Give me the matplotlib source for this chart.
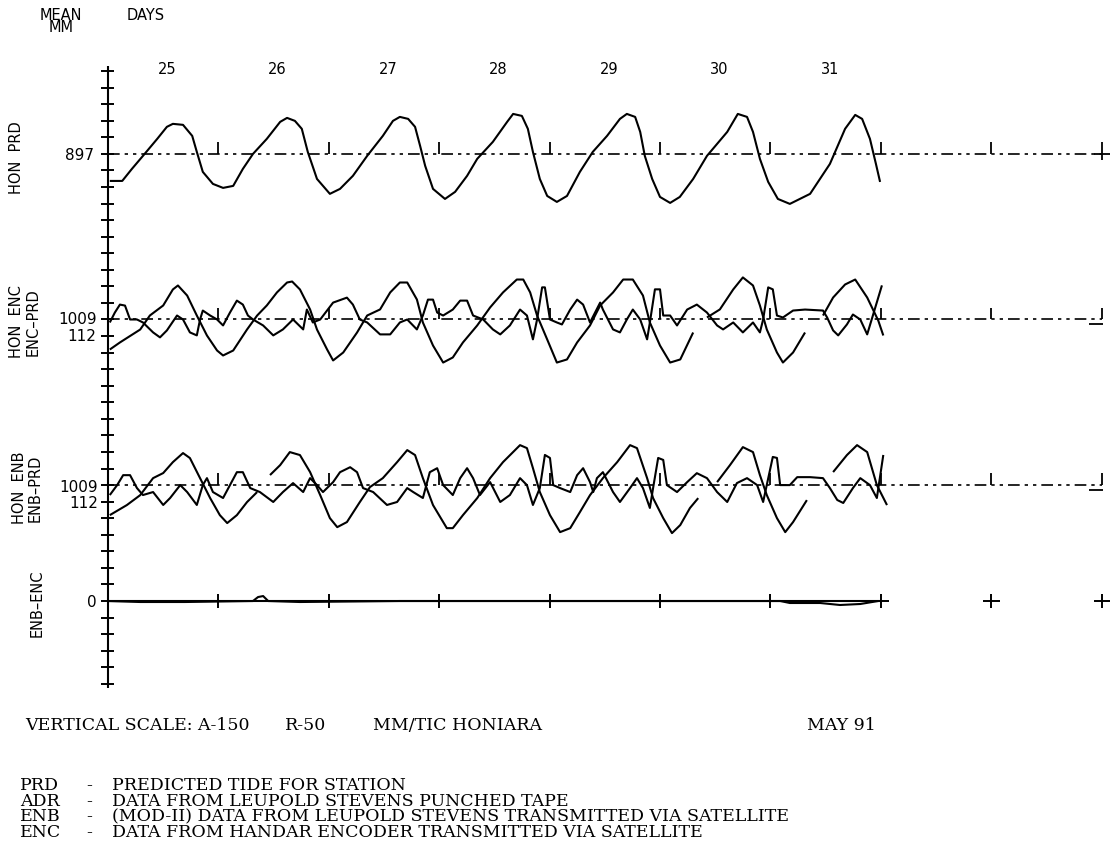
import numpy as np
import matplotlib
matplotlib.use('Agg')
from matplotlib import pyplot as plt

nan = np.nan

# time axis: hours after 00:00 May 25; heights in mm about the station mean
days = ['25', '26', '27', '28', '29', '30', '31']
abs_mm_per_tic = 150
res_mm_per_tic = 50

# HON PRD - predicted tide (mean 897 mm)
prd_hr = [0.5, 3.2, 5.3, 7.7, 10.8, 12.9, 14.2, 16.4, 18.4, 19.4, 20.7, 22.9, 25.1, 27.3, 29.4, 31.6,
          34.6, 37.5, 39.0, 40.7, 42.2, 43.5, 45.5, 48.3, 50.5, 53.3, 56.4, 59.8, 62.0, 63.5, 65.3,
          66.8, 67.9, 69.0, 70.7, 73.3, 75.5, 78.1, 80.3, 83.7, 86.8, 88.1, 90.0, 91.3, 92.4, 93.9,
          95.5, 97.6, 99.8, 102.6, 105.4, 108.5, 111.3, 112.8, 114.6, 115.7, 116.7, 118.3, 120.0,
          122.2, 124.3, 127.2, 130.2, 134.6, 136.9, 138.9, 140.2, 141.7, 143.5, 145.6, 148.2, 152.6,
          156.9, 160.2, 162.4, 163.9, 165.6, 166.9, 167.8]
prd_mm = [-245, -245, -136, -18, 136, 245, 272, 263, 163, 18, -163, -272, -308, -290, -136, 0,
          136, 290, 326, 299, 227, 18, -227, -362, -317, -199, -18, 163, 299, 335, 317,
          245, 72, -109, -317, -408, -344, -199, -45, 109, 290, 362, 344, 227, 18, -227,
          -381, -435, -381, -163, 18, 163, 317, 362, 335, 199, -18, -227, -390,
          -444, -390, -227, -18, 199, 362, 335, 199, -45, -254, -408, -453, -362,
          -91, 227, 353, 317, 136, -91, -254]

# HON ENC - handar encoder (mean 1009 mm)
enc_hr = [0.5, 2.7, 7.1, 9.2, 12.1, 14.2, 15.3, 17.3, 19.4, 21.6, 23.8, 25.1, 27.3, 30.3, 32.5, 34.6,
          36.8, 39.0, 40.1, 41.8, 44.0, 45.5, 47.7, 49.0, 51.2, 54.2, 56.4, 59.2, 61.4, 63.5, 65.1,
          67.2, 68.5, 70.7, 72.9, 75.0, 77.2, 80.3, 83.1, 85.9, 88.9, 90.3, 91.8, 93.3, 95.5, 97.6,
          99.8, 102.0, 104.8, 107.0, 109.8, 112.0, 114.1, 116.3, 117.8, 120.0, 122.2, 124.4, 127.2,
          nan, 130.2, 133.0, 135.9, 138.0, 140.2, 141.7, 143.2, 145.4, 146.7, 148.9, 151.5,
          nan, 155.4, 157.6, 160.2, 162.4, 165.0, 167.4, 168.5]
enc_mm = [-272, -208, -91, 36, 127, 272, 308, 217, 36, -145, -281, -326, -281, -91, 36, 127,
          245, 335, 344, 272, 91, -91, -272, -371, -299, -118, 36, 91, 245, 335, 335,
          181, -27, -236, -390, -344, -208, -54, 109, 245, 362, 362, 245, 36, -181, -390,
          -362, -208, -54, 127, 245, 362, 362, 217, -27, -236, -390, -362, -118,
          nan, 18, 91, 272, 381, 308, 127, -91, -299, -390, -299, -118,
          nan, 36, 199, 317, 362, 199, -9, -145]

# ENC-PRD residual (mean 112 mm)
encr_hr = [0.5, 1.6, 2.7, 3.8, 4.9, 6.4, 7.7, 9.9, 11.4, 12.9, 15.1, 16.4, 17.9, 19.4, 20.1, 20.7,
           22.3, 23.8, 25.1, 26.6, 28.1, 29.4, 30.5, 31.6, 33.8, 36.0, 38.1, 40.3, 42.5, 43.3, 44.6,
           46.2, 49.0, 52.0, 53.3, 54.8, 56.4, 59.2, 61.4, 63.5, 65.1, 67.2, 68.5, 69.6, 70.7, 71.6,
           72.9, 75.0, 76.6, 78.1, 79.4, 81.6, 83.7, 85.3, 87.4, 89.6, 91.1, 92.4, 93.3, 94.4, 95.0,
           96.1, 97.6, 98.7, 100.5, 102.0, 103.3, 104.8, 107.0, 107.6, 109.8, 111.3, 112.8, 114.1,
           115.7, 117.2, 117.8, 118.9, 120.0, 120.7, 122.2, 123.7, 125.9, 128.0, 130.2, 132.4, 133.7,
           135.9, 138.0, 140.2, 141.7, 142.4, 143.5, 144.5, 145.4, 146.7, 148.9, 151.5, 155.4, 156.3,
           157.6, 158.7, 160.6, 161.9, 163.5, 165.0, 166.3, 168.2]
encr_mm = [-9, 21, 45, 42, 0, 0, -9, -39, -54, -33, 12, 0, -39, -48, 0, 27,
           12, 0, -18, 21, 57, 45, 12, 0, -18, -48, -30, 0, -30, 30, -9,
           0, 51, 66, 45, 0, -9, -45, -45, -9, 0, -30, 12, 60, 60, 21,
           12, 30, 57, 57, 12, 0, -30, -45, -18, 30, 12, -60, 0, 97, 97,
           0, -9, -15, 30, 60, 45, -9, 51, 30, -30, -39, 0, 30,
           0, -60, -9, 91, 91, 12, 12, -18, 30, 45, 21, -18, -30,
           -9, -39, -9, -39, 0, 97, 91, 12, 6, 27, 30, 27, 6,
           -33, -48, -15, 15, 0, -45, 15, 103]

# HON ENB - leupold stevens via satellite (mean 1009 mm)
enb_hr = [0.5, 4.2, 7.1, 9.9, 12.1, 14.2, 16.4, 17.9, 20.1, 22.3, 24.4, 26.0, 28.1, 30.3, 32.5,
          nan, 35.3, 37.5, 39.6, 41.8, 44.0, 46.2, 48.3, 49.9, 52.0, 54.8, 57.0, 59.8, 62.9, 65.1,
          66.8, 68.5, 70.7, 73.7, 75.0, 77.2, 80.3, 83.1, 85.9, 89.6, 91.1, 92.4, 93.9, 96.1, 98.3,
          100.5, 102.6, 104.8, 107.6, 110.7, 113.5, 115.0, 117.2, 118.5, 120.7, 122.6, 124.4, 126.5,
          128.3, nan, 132.4, 135.2, 138.0, 140.2, 141.7, 143.2, 145.4, 147.2, 148.9, 151.9,
          nan, 157.6, 160.6, 162.8, 165.0, 167.1, 169.3]
enb_mm = [-272, -181, -91, 63, 109, 208, 290, 245, 63, -118, -272, -344, -272, -154, -63,
          nan, 91, 181, 299, 272, 118, -91, -299, -381, -335, -154, -18, 63, 208, 317,
          272, 63, -181, -390, -390, -272, -118, 63, 208, 362, 335, 154, -63, -272, -426,
          -390, -245, -91, 63, 208, 362, 335, 63, -118, -299, -435, -362, -208,
          -118, nan, 27, 181, 344, 299, 91, -91, -299, -426, -335, -136,
          nan, 118, 272, 362, 299, 0, -181]

# ENB-PRD residual (mean 112 mm)
enbr_hr = [0.5, 2.1, 3.4, 4.9, 6.4, 7.7, 9.9, 12.1, 13.6, 15.8, 17.3, 19.4, 20.7, 21.6, 22.9, 25.1,
           26.6, 28.1, 29.4, 31.0, 33.1, 36.0, 38.1, 40.3, 42.5, 44.0, 45.5, 46.8, 49.0, 50.5, 52.7,
           54.2, 55.5, 57.7, 60.7, 62.9, 65.1, 66.4, 68.5, 70.0, 71.6, 72.9, 75.0, 76.6, 78.1, 79.4,
           80.9, 83.1, 85.3, 87.4, 89.6, 91.1, 92.4, 93.9, 95.0, 96.1, 96.8, 98.3, 100.5, 102.0,
           103.3, 104.8, 105.5, 106.3, 107.6, 109.8, 111.3, 113.5, 115.0, 116.3, 117.8, 118.5, 119.6,
           120.7, 121.5, 123.7, 125.9, 128.0, 130.2, 132.4, 134.6, 136.7, 138.9, 141.1, 142.4, 144.5,
           145.4, 146.1, 148.2, 149.8, 152.6, 155.4, 156.9, 158.5, 159.8, 161.9, 163.5, 165.6, 167.1,
           168.5]
enbr_mm = [-30, 0, 30, 30, -9, -30, -21, -60, -39, 0, -21, -60, 0, 21, -21, -39,
           0, 39, 39, -9, -21, -51, -21, 6, -21, 21, 0, -21, 9, 39, 54,
           39, -9, -21, -60, -51, -9, -21, -39, 39, 51, 0, -30, 21, 51, 21,
           -30, 9, -51, -30, 21, 0, -60, -9, 91, 82, 0, -9, -21, 30,
           51, 9, -21, 21, 39, -21, -51, -9, 21, -9, -69, -9, 82,
           76, 0, -21, 9, 36, 21, -21, -51, 6, 21, 0, -51, 85,
           82, 0, 0, 24, 24, 21, -9, -45, -54, -9, 21, 0, -39,
           91]

# ENB-ENC difference
diff_hr = [0.0, 7.1, 16.8, 31.6, 32.7, 33.8, 34.9, 41.8, 63.5, 85.3, 107.0, 128.7, 146.1, 148.2,
           154.8, 159.1, 163.5, 167.4]
diff_mm = [0, -3, -3, 0, 12, 15, 0, -3, 0, 0, 0, 0, 0, -6, -6, -12, -9, 0]

W, H = 1115, 845
fig = plt.figure(figsize=(W / 100, H / 100), dpi=100)
ax = fig.add_axes([107.5 / W, (H - 693.1) / H, 994.5 / W, (693.1 - 63.8) / H])
ax.set_xlim(0, 216)
ax.set_ylim(-5.5, 32.5)
ax.axis('off')

k = dict(color='black', clip_on=False, solid_capstyle='butt')
base_prd, base_enc, base_enb, base_diff = 27, 17, 7, 0

# vertical axis with + ticks
ax.plot([0, 0], [-5.25, 32.3], lw=1.5, **k)
for t in range(-5, 33):
    ax.plot([-1.45, 1.45], [t, t], lw=1.4, **k)

# mean lines with day marks
for b in (base_prd, base_enc, base_enb):
    ax.plot([0, 216], [b, b], lw=1.2, dashes=(7, 3, 2, 3, 2, 3), **k)
    for d in range(1, 10):
        ax.plot([24 * d, 24 * d], [b, b + 0.72], lw=1.3, **k)
ax.plot([214.2, 217.8], [base_prd, base_prd], lw=1.3, **k)
ax.plot([24 * 9, 24 * 9], [base_prd - 0.35, base_prd], lw=1.3, **k)
for b in (base_enc, base_enb):
    ax.plot([213.2, 216.2], [b - 0.3, b - 0.3], lw=1.3, **k)

ax.plot([0, 168], [base_diff, base_diff], lw=1.5, **k)
for d in range(1, 10):
    ax.plot([24 * d, 24 * d], [base_diff - 0.45, base_diff + 0.45], lw=1.4, **k)
    ax.plot([24 * d - 1.8, 24 * d + 1.8], [base_diff, base_diff], lw=1.4, **k)

lw = 1.5
ax.plot(prd_hr, base_prd + np.array(prd_mm) / abs_mm_per_tic, lw=lw, **k)
ax.plot(enc_hr, base_enc + np.array(enc_mm) / abs_mm_per_tic, lw=lw, **k)
ax.plot(encr_hr, base_enc + np.array(encr_mm) / res_mm_per_tic, lw=lw, **k)
ax.plot(enb_hr, base_enb + np.array(enb_mm) / abs_mm_per_tic, lw=lw, **k)
ax.plot(enbr_hr, base_enb + np.array(enbr_mm) / res_mm_per_tic, lw=lw, **k)
ax.plot(diff_hr, base_diff + np.array(diff_mm) / res_mm_per_tic, lw=lw, **k)


def ftext(x, y, s, **kw):
    fig.text(x / W, 1 - y / H, s, **kw)


sans = dict(family='DejaVu Sans', fontsize=10.5, color='black', va='center')
ftext(61, 15, 'MEAN', ha='center', **sans)
ftext(61, 28, 'MM', ha='center', **sans)
ftext(146, 16, 'DAYS', ha='center', **sans)
for i, d in enumerate(days):
    ftext(107.5 + 110.5 * (i + 0.5) + 4, 70, d, ha='center', **sans)

num = dict(sans, fontsize=11)
ftext(94, 155, '897', ha='right', **num)
ftext(97, 320, '1009', ha='right', **num)
ftext(96, 337, '112', ha='right', **num)
ftext(98, 488, '1009', ha='right', **num)
ftext(98, 504, '112', ha='right', **num)
ftext(97, 603, '0', ha='right', **num)

rot = dict(sans, fontsize=10.5, ha='center', rotation=90)
ftext(17, 158, 'HON  PRD', **rot)
ftext(17, 322, 'HON  ENC', **rot)
ftext(33, 322, 'ENC\u2013PRD', **rot)
ftext(19, 488, 'HON  ENB', **rot)
ftext(35, 488, 'ENB\u2013PRD', **rot)
ftext(37, 603, 'ENB\u2013ENC', **rot)

serif = dict(family='DejaVu Serif', fontsize=12.5, color='black', va='center')
ftext(25, 726, 'VERTICAL SCALE: A-150', **serif)
ftext(285, 726, 'R-50', **serif)
ftext(373, 726, 'MM/TIC HONIARA', **serif)
ftext(807, 726, 'MAY 91', **serif)

abbr = ['PRD', 'ADR', 'ENB', 'ENC']
desc = ['PREDICTED TIDE FOR STATION',
        'DATA FROM LEUPOLD STEVENS PUNCHED TAPE',
        '(MOD-II) DATA FROM LEUPOLD STEVENS TRANSMITTED VIA SATELLITE',
        'DATA FROM HANDAR ENCODER TRANSMITTED VIA SATELLITE']
for i in range(4):
    y = 786 + 15.5 * i
    ftext(20, y, abbr[i], **serif)
    ftext(86, y, '-', **serif)
    ftext(112, y, desc[i], **serif)

fig.savefig('out.png', dpi=100)
